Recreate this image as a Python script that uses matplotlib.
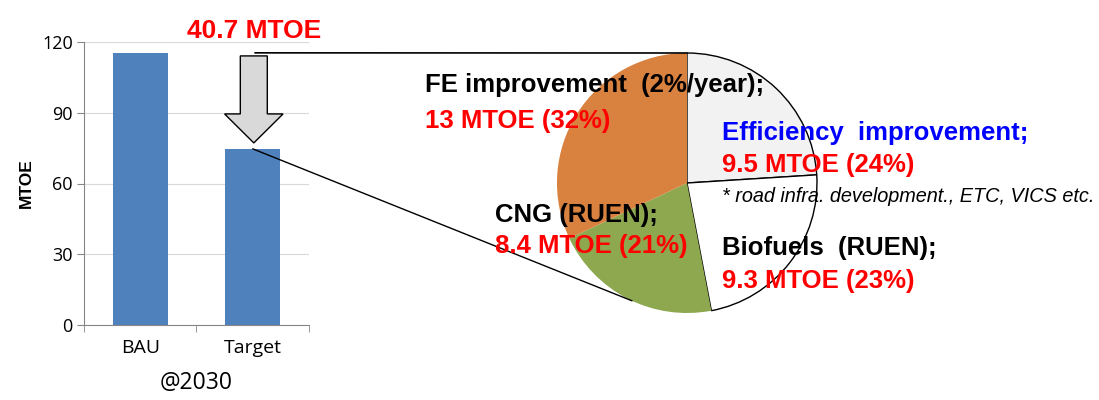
import numpy as np
import matplotlib
matplotlib.use("Agg")
import matplotlib.pyplot as plt
from matplotlib.patches import FancyArrow, ConnectionPatch

# --- data ---
bar_labels = ["BAU", "Target"]
bar_values = [115.4, 74.7]
y_ticks = [0, 30, 60, 90, 120]

pie_names = ["Efficiency improvement", "Biofuels (RUEN)", "CNG (RUEN)", "FE improvement (2%/year)"]
pie_shares = [24, 23, 21, 32]
pie_colors = ["#f2f2f2", "#ffffff", "#8ea84f", "#d9823f"]
pie_edges = ["black", "black", "none", "none"]

saving = bar_values[0] - bar_values[1]

plt.rcParams["font.family"] = ["Liberation Sans", "DejaVu Sans"]

fig = plt.figure(figsize=(10.99, 4.0), dpi=100)

# --- 1. bar chart ---
ax_bar = fig.add_axes([0.0764, 0.1875, 0.2047, 0.7075])
x = np.arange(len(bar_labels))
ax_bar.bar(x, bar_values, width=0.49, color="#4f81bd", zorder=2)
ax_bar.set_xlim(-0.5, 1.5)
ax_bar.set_ylim(0, 120)
ax_bar.set_yticks(y_ticks)
ax_bar.set_yticklabels([str(v) for v in y_ticks], fontsize=13, family="Open Sans")
ax_bar.set_xticks(x)
ax_bar.set_xticklabels(bar_labels, fontsize=14, family="Open Sans")
ax_bar.set_xticks([-0.5, 0.5, 1.5], minor=True)
ax_bar.tick_params(axis="x", which="major", length=0, pad=10)
ax_bar.tick_params(axis="x", which="minor", length=5, color="#868686")
ax_bar.tick_params(axis="y", length=5, color="#868686", pad=3)
ax_bar.grid(axis="y", color="#d9d9d9", lw=0.8, zorder=0)
for s in ["top", "right"]:
    ax_bar.spines[s].set_visible(False)
for s in ["left", "bottom"]:
    ax_bar.spines[s].set_color("#868686")
ax_bar.set_ylabel("MTOE", fontsize=12.5, fontweight="bold", labelpad=6)
ax_bar.set_xlabel("@2030", fontsize=16.5, family="Open Sans", labelpad=10)

# gray block arrow from BAU level down to Target
arrow_top = bar_values[0] - 1.3
arrow_tip = bar_values[1] + 2.5
arr = FancyArrow(1.01, arrow_top, 0, arrow_tip - arrow_top, width=0.24, head_width=0.52,
                 head_length=12.3, length_includes_head=True,
                 facecolor="#d9d9d9", edgecolor="black", lw=1, zorder=4, clip_on=False)
ax_bar.add_patch(arr)
ax_bar.text(1.01, 121.7, f"{saving:.1f} MTOE", color="red", fontsize=19, fontweight="bold",
            ha="center", va="baseline")

# --- 2. pie chart ---
ax_pie = fig.add_axes([0.5068, 0.2175, 0.2366, 0.65])
wedges, _ = ax_pie.pie(pie_shares, colors=pie_colors, startangle=90, counterclock=False,
                       radius=1.0, wedgeprops=dict(linewidth=1))
for w, ec in zip(wedges, pie_edges):
    w.set_edgecolor(ec)
ax_pie.set_xlim(-1, 1)
ax_pie.set_ylim(-1, 1)
ax_pie.set_aspect("auto")
ax_pie.axis("off")

# connector lines bar -> pie
theta = np.deg2rad(-115)
con1 = ConnectionPatch(xyA=(1.02, bar_values[0]), coordsA=ax_bar.transData,
                       xyB=(0, 1), coordsB=ax_pie.transData, color="black", lw=1.2)
con2 = ConnectionPatch(xyA=(1.0, bar_values[1]), coordsA=ax_bar.transData,
                       xyB=(np.cos(theta), np.sin(theta)), coordsB=ax_pie.transData,
                       color="black", lw=1.0)
fig.add_artist(con1)
fig.add_artist(con2)

# --- 3. labels ---
fs = 18.5


def label(px, py, s, color, size=fs, style="normal", weight="bold"):
    fig.text(px / 1099, 1 - py / 400, s, fontsize=size, fontweight=weight, fontstyle=style,
             color=color, va="baseline", zorder=5)


label(425, 92, "FE improvement  (2%/year);", "black")
label(425, 128, "13 MTOE (32%)", "red")
label(722, 140, "Efficiency  improvement;", "blue")
label(722, 172, "9.5 MTOE (24%)", "red")
label(722, 202, "* road infra. development., ETC, VICS etc.", "black", size=14.3,
      style="italic", weight="normal")
label(722, 255, "Biofuels  (RUEN);", "black")
label(722, 288, "9.3 MTOE (23%)", "red")
label(495, 222, "CNG (RUEN);", "black")
label(495, 253, "8.4 MTOE (21%)", "red")

fig.savefig("out.png", dpi=100)
